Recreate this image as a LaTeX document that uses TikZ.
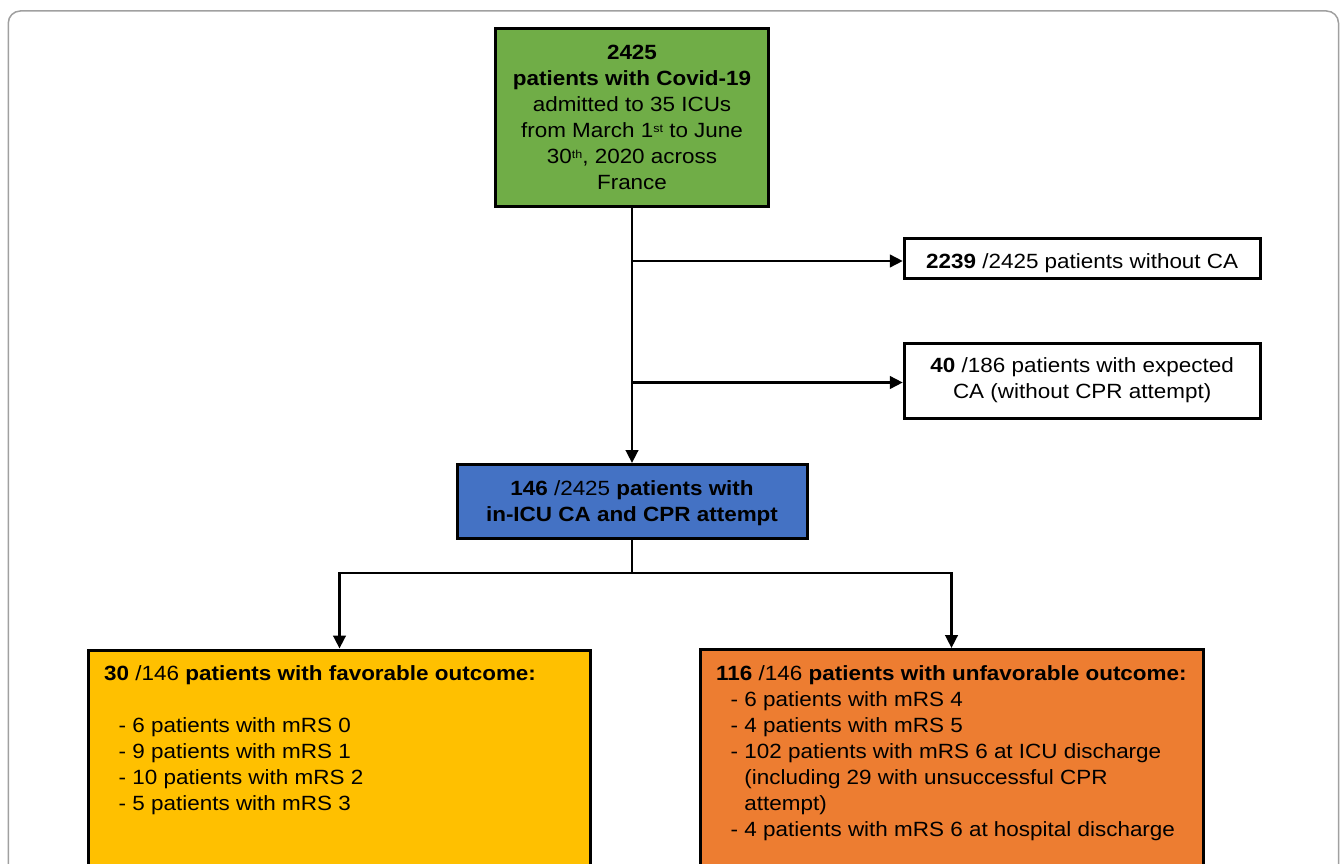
\documentclass[tikz,border=0pt]{standalone}
\usepackage{fontspec}
\setmainfont{Liberation Sans}[FakeStretch=1.09]
\usetikzlibrary{arrows.meta}
\definecolor{cgreen}{HTML}{70AD47}
\definecolor{cblue}{HTML}{4472C4}
\definecolor{cyellow}{HTML}{FFC000}
\definecolor{corange}{HTML}{ED7D31}
\definecolor{cframe}{HTML}{A0A0A0}
\newcommand\supx[1]{\raisebox{5.5pt}{\fontsize{11.5}{11.5}\selectfont #1}}
\newcommand\indx{\hspace*{14.5pt}}
\newcommand\contx{\hspace*{14.5pt}\phantom{- }}
\begin{document}
\begin{tikzpicture}[x=1pt,y=-1pt,
  box/.style={draw=black, line width=3pt, inner sep=0pt, align=center,
    font=\fontsize{20.6}{26}\selectfont},
  conn/.style={line width=2.7pt},
  arr/.style={conn, -{Triangle[length=13pt,width=12.5pt]}},
  txt/.style={inner sep=0pt, align=left, anchor=north west,
    font=\fontsize{20.6}{26}\selectfont}]
\useasboundingbox (0,0) rectangle (1344,864);
\clip (0,0) rectangle (1344,864);
\draw[cframe, line width=1.5pt, rounded corners=12pt] (8.3,11) rectangle (1338.5,920);

\node[box, fill=cgreen, minimum width=273.5pt, minimum height=178pt] (g) at (632,117.5)
  {{\bfseries 2425}\\{\bfseries patients with Covid-19}\\admitted to 35 ICUs\\from March 1\supx{st} to June\\30\supx{th}, 2020 across\\France};

\node[box, fill=white, minimum width=355.7pt, minimum height=40pt, text height=20pt, text depth=0pt] (n1) at (1082.15,258.5)
  {{\bfseries 2239} /2425 patients without CA};

\node[box, fill=white, minimum width=355.7pt, minimum height=75pt] (n2) at (1082.15,380.5)
  {{\bfseries 40} /186 patients with expected\\CA (without CPR attempt)};

\node[box, fill=cblue, minimum width=350pt, minimum height=74pt, text depth=0pt,
  font=\fontsize{20.6}{26}\selectfont\bfseries] (b) at (632,501.5)
  {146 {\mdseries /2425} patients with\\in-ICU CA and CPR attempt};

\node[box, fill=cyellow, minimum width=502.4pt, minimum height=300pt] (y) at (339.5,800) {};
\node[box, fill=corange, minimum width=503pt, minimum height=300pt] (o) at (951.5,799.5) {};

\node[txt] (yt) at (104,665)
  {\rule{0pt}{15pt}{\bfseries 30} /146 {\bfseries patients with favorable outcome:}\\[26pt]
   \indx- 6 patients with mRS 0\\
   \indx- 9 patients with mRS 1\\
   \indx- 10 patients with mRS 2\\
   \indx- 5 patients with mRS 3};

\node[txt] (ot) at (716,665)
  {\rule{0pt}{15pt}{\bfseries 116} /146 {\bfseries patients with unfavorable outcome:}\\
   \indx- 6 patients with mRS 4\\
   \indx- 4 patients with mRS 5\\
   \indx- 102 patients with mRS 6 at ICU discharge\\
   \contx(including 29 with unsuccessful CPR\\
   \contx attempt)\\
   \indx- 4 patients with mRS 6 at hospital discharge};

\draw[arr] (g.south) -- (b.north);
\draw[arr] ([yshift=-2.5pt]n1.west -| g.south) -- ([yshift=-2.5pt]n1.west);
\draw[arr] ([yshift=-2pt]n2.west -| g.south) -- ([yshift=-2pt]n2.west);
\coordinate (j) at ([yshift=-33pt]b.south);
\draw[conn] (b.south) -- (j);
\draw[arr] (j) -| (y.north);
\draw[arr] (j) -| (o.north);
\end{tikzpicture}
\end{document}
